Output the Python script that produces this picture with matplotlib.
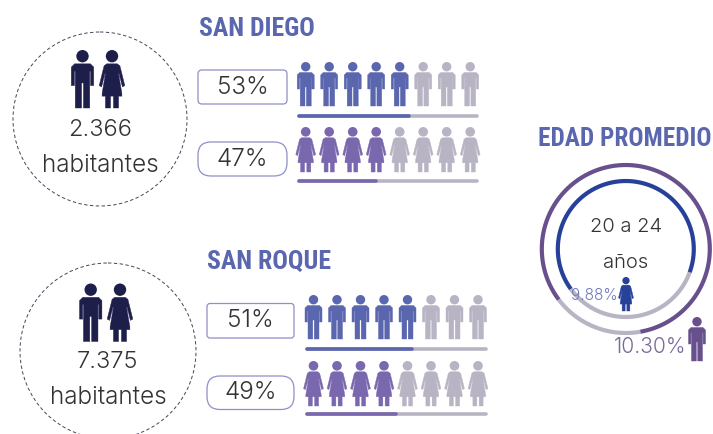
import matplotlib
matplotlib.use("Agg")
import matplotlib.pyplot as plt
from matplotlib.patches import Circle, FancyBboxPatch, Polygon
import numpy as np

# values
towns = ["SAN DIEGO", "SAN ROQUE"]
population = ["2.366", "7.375"]
men_pct = [53, 51]
women_pct = [47, 49]
men_on = [5, 5]
women_on = [4, 4]
men_bar = [0.617, 0.586]
women_bar = [0.433, 0.497]
age_label = ["20 a 24", "años"]
women_age = "9.88%"
men_age = "10.30%"
outer_grey = [170, 233]  # degrees clockwise from top
inner_grey = [110, 234]

NAVY = "#1d1f4a"
BLUE = "#5a67ae"
VIOLET = "#7a68ae"
GREY = "#b9b4c4"
RING_PURPLE = "#67508c"
RING_BLUE = "#27409a"
TXT = "#333333"

plt.rcParams["font.family"] = ["Inter", "DejaVu Sans"]
plt.rcParams["font.weight"] = 300
HEAD = "Roboto Condensed"

fig = plt.figure(figsize=(7.13, 4.34), dpi=100)
ax = fig.add_axes([0, 0, 1, 1])
ax.set_xlim(0, 713)
ax.set_ylim(434, 0)
ax.axis("off")


def man(cx, top, h, color):
    # shape drawn on a 17 x 44 box then scaled
    s = h / 44.0
    pts = [(-6, 10.5), (6, 10.5), (8.5, 13), (8.5, 27), (6.1, 27), (6.1, 16), (5.5, 16), (5.5, 44),
           (0.7, 44), (0.7, 25), (-0.7, 25), (-0.7, 44), (-5.5, 44), (-5.5, 16), (-6.1, 16),
           (-6.1, 27), (-8.5, 27), (-8.5, 13)]
    pts = [(cx + x * s, top + y * s) for x, y in pts]
    ax.add_patch(Polygon(pts, closed=True, fc=color, ec=color, lw=0.3, joinstyle="round"))
    ax.add_patch(Circle((cx, top + 4.7 * s), 4.7 * s, fc=color, ec="none"))


def woman(cx, top, h, color):
    s = h / 44.0
    pts = [(-4, 10.5), (4, 10.5), (6, 12), (9.7, 27), (7.9, 28), (5.4, 18), (5, 18), (7.5, 33), (7.5, 35),
           (5, 35), (5, 44), (1.1, 44), (1.1, 35), (-1.1, 35), (-1.1, 44), (-5, 44), (-5, 35),
           (-7.5, 35), (-7.5, 33), (-5, 18), (-5.4, 18), (-7.9, 28), (-9.7, 27), (-6, 12)]
    pts = [(cx + x * s, top + y * s) for x, y in pts]
    ax.add_patch(Polygon(pts, closed=True, fc=color, ec=color, lw=0.3, joinstyle="round"))
    ax.add_patch(Circle((cx, top + 4.7 * s), 4.7 * s, fc=color, ec="none"))


def box(x0, x1, y0, y1, rad, label):
    ax.add_patch(FancyBboxPatch((x0 + rad, y0 + rad), x1 - x0 - 2 * rad, y1 - y0 - 2 * rad,
                                boxstyle="round,pad=%f,rounding_size=%f" % (rad, rad),
                                fc="white", ec="#8f8fca", lw=0.9))
    ax.text((x0 + x1) / 2, (y0 + y1) / 2, label, ha="center", va="center",
            fontsize=17.5, color=TXT)


def row(icon, x0, step, top, h, n_on, on_color, bar_y, bar_x0, bar_x1, frac):
    for i in range(8):
        icon(x0 + i * step, top, h, on_color if i < n_on else GREY)
    ax.plot([bar_x0, bar_x1], [bar_y, bar_y], color=GREY, lw=2.6, solid_capstyle="round")
    ax.plot([bar_x0, bar_x0 + (bar_x1 - bar_x0) * frac], [bar_y, bar_y], color=on_color, lw=2.6,
            solid_capstyle="round")


def arc(r, a0, a1, color, lw):
    t = np.radians(np.linspace(a0, a1, 200))
    ax.plot(625.8 + r * np.sin(t), 249 - r * np.cos(t), color=color, lw=lw, solid_capstyle="butt")


# one block per town: layout differs a little between the two
layout = [
    dict(cx=100, cy=119, r=87, hx=82.5, wx=112, ic=50, title=(199, 28.5), bx=(198, 287), y1=(70, 104), y2=(142, 176),
         rad1=4, mx=305.7, my=62, by1=115.5, wy=127, by2=180.5, b=(299, 477), ty=(129.5, 165)),
    dict(cx=108, cy=351, r=88, hx=90.7, wx=120, ic=283.5, title=(207, 261.5), bx=(207, 294), y1=(303.5, 338), y2=(376, 409.5),
         rad1=3, mx=313.5, my=295, by1=348.5, wy=361, by2=414, b=(307, 486), ty=(362, 398)),
]
for i, l in enumerate(layout):
    ax.add_patch(Circle((l["cx"], l["cy"]), l["r"], fc="none", ec="#45455a", lw=0.7, ls=(0, (3.5, 2.5))))
    man(l["hx"], l["ic"], 58, NAVY)
    woman(l["wx"], l["ic"], 58, NAVY)
    ax.text(l["cx"], l["ty"][0], population[i], ha="center", va="center", fontsize=17, color=TXT)
    ax.text(l["cx"], l["ty"][1], "habitantes", ha="center", va="center", fontsize=17.5, color=TXT)
    ax.text(l["title"][0], l["title"][1], towns[i], ha="left", va="center", fontsize=18.5,
            family=HEAD, weight=700, color=BLUE)
    box(l["bx"][0], l["bx"][1], l["y1"][0], l["y1"][1], l["rad1"], "%d%%" % men_pct[i])
    box(l["bx"][0], l["bx"][1], l["y2"][0], l["y2"][1], 13, "%d%%" % women_pct[i])
    row(man, l["mx"], 23.5, l["my"], 44, men_on[i], BLUE, l["by1"], l["b"][0], l["b"][1], men_bar[i])
    row(woman, l["mx"], 23.5, l["wy"], 45, women_on[i], VIOLET, l["by2"], l["b"][0], l["b"][1], women_bar[i])

# edad promedio
ax.text(624.5, 139.5, "EDAD PROMEDIO", ha="center", va="center", fontsize=18.2, family=HEAD,
        weight=700, color=BLUE)
arc(84, outer_grey[0], outer_grey[1], GREY, 3.0)
arc(84, outer_grey[1], outer_grey[0] + 360, RING_PURPLE, 3.0)
arc(68, inner_grey[0], inner_grey[1], GREY, 3.0)
arc(68, inner_grey[1], inner_grey[0] + 360, RING_BLUE, 3.0)
ax.text(626, 227, age_label[0], ha="center", va="center", fontsize=14.5, color=TXT)
ax.text(626, 263, age_label[1], ha="center", va="center", fontsize=14.5, color=TXT)
ax.text(618, 295, women_age, ha="right", va="center", fontsize=11, color="#6f78bd")
woman(626, 277, 34, RING_BLUE)
ax.text(686, 347, men_age, ha="right", va="center", fontsize=15, color="#7a6a9a")
man(697, 317, 44, RING_PURPLE)

fig.savefig("out.png", dpi=100)
